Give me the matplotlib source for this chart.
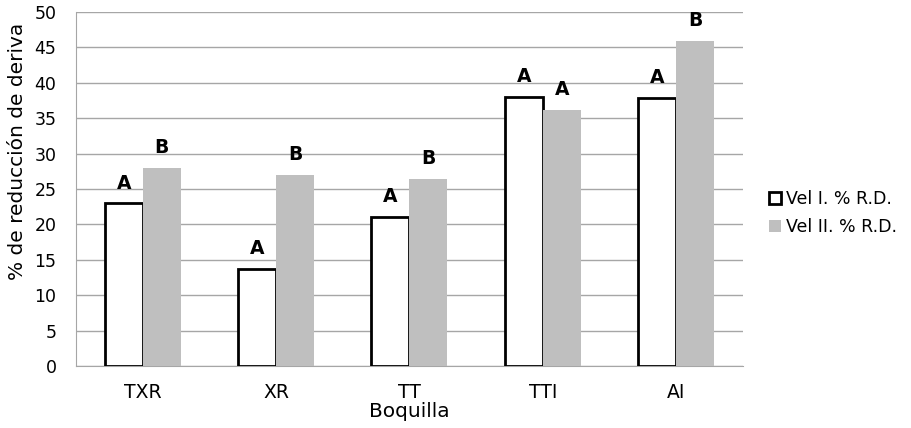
import matplotlib
matplotlib.use("Agg")
import matplotlib.pyplot as plt
import numpy as np

plt.rcParams['font.family'] = ['DejaVu Sans']

boquillas = ["TXR", "XR", "TT", "TTI", "AI"]
vel1 = [23.0, 13.7, 21.1, 38.0, 37.9]
vel2 = [28.0, 27.0, 26.4, 36.2, 45.9]
letras1 = ["A", "A", "A", "A", "A"]
letras2 = ["B", "B", "B", "A", "B"]

fig = plt.figure(figsize=(9.11, 4.28), dpi=100)
ax = fig.add_axes([0.0834, 0.1449, 0.732, 0.827])

x = np.arange(len(boquillas))
w = 0.285
ax.bar(x - w/2, vel1, w, color='white', edgecolor='black', linewidth=2,
       label='Vel I. % R.D.', zorder=3)
ax.bar(x + w/2, vel2, w, color='#bfbfbf', edgecolor='none',
       label='Vel II. % R.D.', zorder=3)

# letras de significancia sobre cada barra
for xi, v, t in zip(x - w/2, vel1, letras1):
    ax.text(xi, v + 1.5, t, ha='center', va='bottom', fontsize=13.5,
            fontweight='bold')
for xi, v, t in zip(x + w/2, vel2, letras2):
    ax.text(xi, v + 1.5, t, ha='center', va='bottom', fontsize=13.5,
            fontweight='bold')

ax.set_xlim(-0.5, 4.5)
ax.set_ylim(0, 50)
ax.set_yticks(np.arange(0, 51, 5))
ax.set_xticks(x)
ax.set_xticklabels(boquillas)
ax.yaxis.grid(True, color='#a6a6a6', linewidth=1, zorder=0)
ax.set_axisbelow(True)
for s in ['top', 'right']:
    ax.spines[s].set_visible(False)
for s in ['left', 'bottom']:
    ax.spines[s].set_color('#a6a6a6')
ax.tick_params(axis='y', length=0, labelsize=12.5, pad=14)
ax.tick_params(axis='x', length=0, labelsize=13.5, pad=12)

ax.set_ylabel('% de reducción de deriva', fontsize=14.5)
ax.yaxis.set_label_coords(-0.073, 0.607)
ax.set_xlabel('Boquilla', fontsize=14.5, labelpad=0)

fig.legend(loc='center left', bbox_to_anchor=(0.844, 0.502), frameon=False,
           fontsize=12.5, handlelength=0.7, handleheight=0.7,
           handletextpad=0.3, labelspacing=0.6, borderaxespad=0, borderpad=0)

fig.savefig('out.png', dpi=100)
